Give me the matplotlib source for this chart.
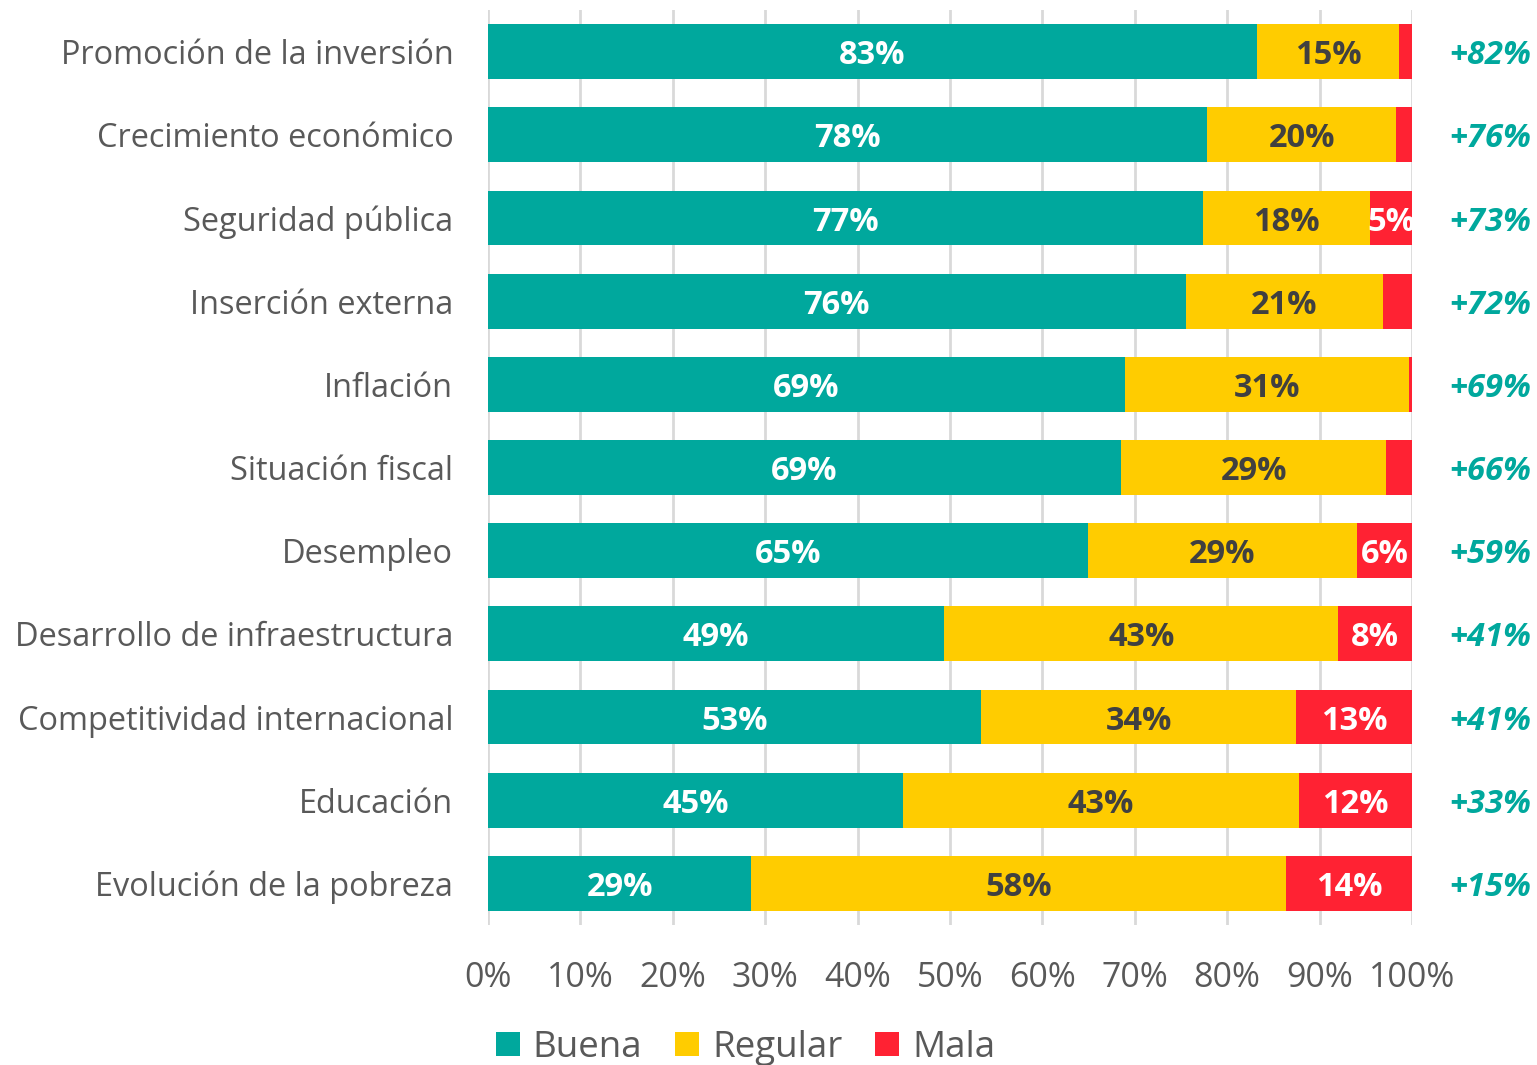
import matplotlib.pyplot as plt
import numpy as np

plt.rcParams["font.family"] = ["Open Sans", "DejaVu Sans"]

categories = [
    "Promoción de la inversión",
    "Crecimiento económico",
    "Seguridad pública",
    "Inserción externa",
    "Inflación",
    "Situación fiscal",
    "Desempleo",
    "Desarrollo de infraestructura",
    "Competitividad internacional",
    "Educación",
    "Evolución de la pobreza",
]
buena = [83.2, 77.8, 77.4, 75.5, 68.9, 68.5, 64.9, 49.4, 53.4, 44.9, 28.5]
regular = [15.4, 20.5, 18.1, 21.4, 30.8, 28.7, 29.1, 42.6, 34.0, 42.9, 57.9]
mala = [1.4, 1.7, 4.5, 3.1, 0.3, 2.8, 6.0, 8.0, 12.6, 12.2, 13.6]
buena_lbl = ["83%", "78%", "77%", "76%", "69%", "69%", "65%", "49%", "53%", "45%", "29%"]
regular_lbl = ["15%", "20%", "18%", "21%", "31%", "29%", "29%", "43%", "34%", "43%", "58%"]
mala_lbl = ["", "", "5%", "", "", "", "6%", "8%", "13%", "12%", "14%"]
neto = ["+82%", "+76%", "+73%", "+72%", "+69%", "+66%", "+59%", "+41%", "+41%", "+33%", "+15%"]

TEAL = "#00A89D"
YELLOW = "#FFCC00"
RED = "#FF2233"
GREY = "#595959"

fig = plt.figure(figsize=(15.37, 10.65), dpi=100)
ax = fig.add_axes([0.3175, 0.1315, 0.6012, 0.859])

y = np.arange(len(categories))
b = np.array(buena)
r = np.array(regular)
m = np.array(mala)
h = 0.66
ax.barh(y, b, height=h, color=TEAL, label="Buena", zorder=3)
ax.barh(y, r, left=b, height=h, color=YELLOW, label="Regular", zorder=3)
ax.barh(y, m, left=b + r, height=h, color=RED, label="Mala", zorder=3)

lab = dict(ha="center", va="center_baseline", fontsize=23.5, fontweight="bold", zorder=4)
for i in y:
    ax.text(b[i] / 2, i, buena_lbl[i], color="white", **lab)
    ax.text(b[i] + r[i] / 2, i, regular_lbl[i], color="#404040", **lab)
    if mala_lbl[i]:
        ax.text(b[i] + r[i] + m[i] / 2, i, mala_lbl[i], color="white", **lab)
    ax.text(108.5, i, neto[i], ha="center", va="center_baseline", color=TEAL,
            fontsize=23.5, fontweight="bold", style="italic", clip_on=False)

ax.set_xlim(0, 100)
ax.set_ylim(len(categories) - 0.5, -0.5)
ax.set_yticks(y)
ax.set_yticklabels(categories, fontsize=23.4, color=GREY, va="center_baseline")
ax.set_xticks(np.arange(0, 101, 10))
ax.set_xticklabels([f"{v}%" for v in range(0, 101, 10)], fontsize=24.4, color=GREY)
ax.tick_params(axis="both", length=0)
ax.tick_params(axis="y", pad=25)
ax.tick_params(axis="x", pad=26)
ax.grid(axis="x", color="#D9D9D9", lw=2, zorder=0)
for s in ax.spines.values():
    s.set_visible(False)

leg = fig.legend(loc="lower center", bbox_to_anchor=(0.485, -0.032), ncol=3, frameon=False,
                 fontsize=26.5, handlelength=0.65, handleheight=0.65, handletextpad=0.35,
                 columnspacing=0.9, labelcolor=GREY)

fig.savefig("out.png", dpi=100)
